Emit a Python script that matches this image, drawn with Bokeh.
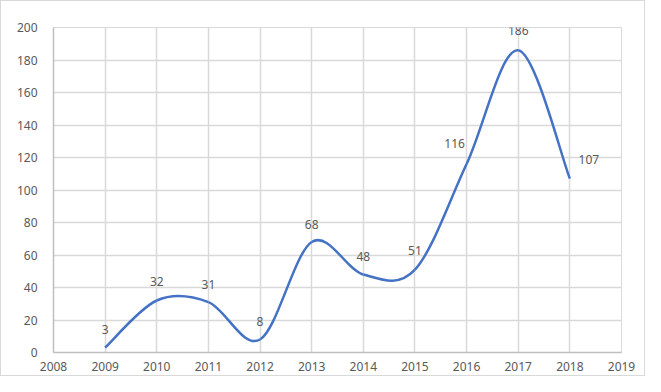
from bokeh.plotting import figure
from bokeh.models import ColumnDataSource, FixedTicker, Range1d, LabelSet
from bokeh.core.properties import value
from bokeh.embed import file_html
from bokeh.resources import INLINE

years = [2009, 2010, 2011, 2012, 2013, 2014, 2015, 2016, 2017, 2018]
counts = [3, 32, 31, 8, 68, 48, 51, 116, 186, 107]
x_ticks = list(range(2008, 2020))
y_ticks = list(range(0, 201, 20))
# label offsets (screen px) mimicking Excel's auto placement (positive dy = up)
label_dx = [0, 0, 0, 0, 0, 0, 0, -12, 0, 19]
label_dy = [18, 19, 18, 18, 18, 18, 19, 21, 20, 19]

# Excel-style smoothing: Catmull-Rom -> cubic Bezier control points
n = len(years)
x0, y0, x1, y1, cx0, cy0, cx1, cy1 = [], [], [], [], [], [], [], []
for i in range(n - 1):
    pa = (years[max(i - 1, 0)], counts[max(i - 1, 0)])
    pb = (years[i], counts[i])
    pc = (years[i + 1], counts[i + 1])
    pd = (years[min(i + 2, n - 1)], counts[min(i + 2, n - 1)])
    x0.append(pb[0]); y0.append(pb[1])
    x1.append(pc[0]); y1.append(pc[1])
    cx0.append(pb[0] + (pc[0] - pa[0]) / 6); cy0.append(pb[1] + (pc[1] - pa[1]) / 6)
    cx1.append(pc[0] - (pd[0] - pb[0]) / 6); cy1.append(pc[1] - (pd[1] - pb[1]) / 6)

seg = ColumnDataSource(dict(x0=x0, y0=y0, x1=x1, y1=y1, cx0=cx0, cy0=cy0, cx1=cx1, cy1=cy1))
lab = ColumnDataSource(dict(x=years, y=counts, t=[str(c) for c in counts], dx=label_dx, dy=label_dy))

p = figure(width=645, height=376, output_backend="svg", toolbar_location=None,
           x_range=Range1d(2008, 2019), y_range=Range1d(0, 200),
           min_border_left=52, min_border_right=25, min_border_top=26, min_border_bottom=25)
p.styles = {"border": "1px solid #d9d9d9", "box-sizing": "border-box"}
p.background_fill_color = "white"
p.border_fill_color = "white"
p.outline_line_color = "#d9d9d9"

p.bezier(x0="x0", y0="y0", x1="x1", y1="y1", cx0="cx0", cy0="cy0", cx1="cx1", cy1="cy1",
         source=seg, line_color="#4472C4", line_width=2.5)
labels = LabelSet(x="x", y="y", text="t", x_offset="dx", y_offset="dy", source=lab,
                  text_align="center", text_baseline="middle", text_font=value("Noto Sans"),
                  text_font_size="12px", text_color="#595959")
p.add_layout(labels)

for ax, ticks in ((p.xaxis, x_ticks), (p.yaxis, y_ticks)):
    ax.ticker = FixedTicker(ticks=ticks)
    ax.major_tick_line_color = None
    ax.minor_tick_line_color = None
    ax.axis_line_color = "#bfbfbf"
    ax.axis_line_width = 1.5
    ax.major_label_text_color = "#595959"
    ax.major_label_text_font = "Noto Sans"
    ax.major_label_text_font_size = "12px"
p.xaxis.major_label_standoff = 3
p.yaxis.major_label_standoff = 10
p.xgrid.ticker = FixedTicker(ticks=x_ticks)
p.ygrid.ticker = FixedTicker(ticks=y_ticks)
p.grid.grid_line_color = "#d9d9d9"
p.grid.grid_line_width = 1.5

open("out.html", "w").write(file_html(p, INLINE))
